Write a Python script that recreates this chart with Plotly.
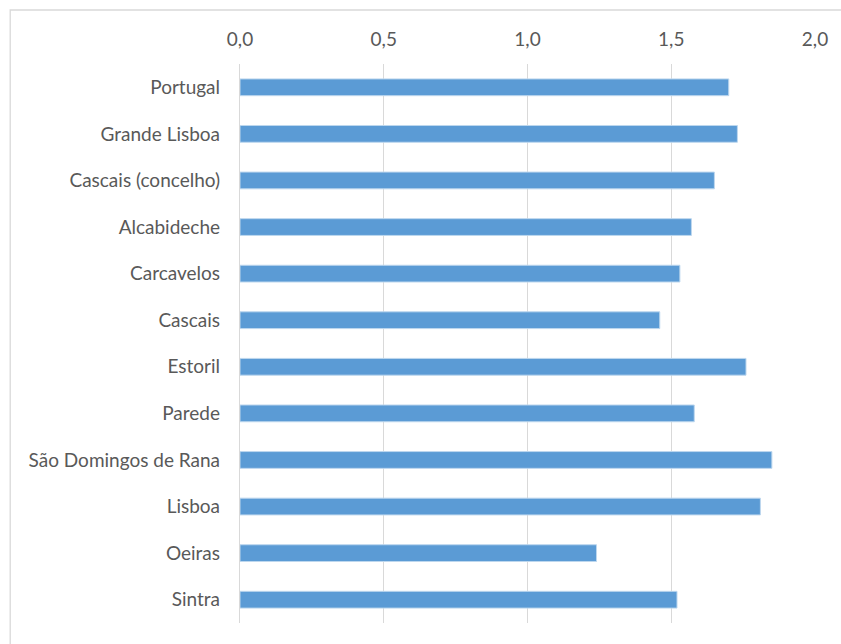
import plotly.graph_objects as go

categories = ["Portugal", "Grande Lisboa", "Cascais (concelho)", "Alcabideche", "Carcavelos",
              "Cascais", "Estoril", "Parede", "São Domingos de Rana", "Lisboa", "Oeiras", "Sintra"]
values = [1.70, 1.73, 1.65, 1.57, 1.53, 1.46, 1.76, 1.58, 1.85, 1.81, 1.24, 1.52]
tick_vals = [0, 0.5, 1.0, 1.5, 2.0]
tick_text = ["0,0", "0,5", "1,0", "1,5", "2,0"]

W, H = 841, 644
L, R, T, B = 240, 25.5, 64, 21
pw, ph = W - L - R, H - T - B

fig = go.Figure(go.Bar(
    x=values, y=categories, orientation="h",
    marker=dict(color="#5B9BD5", line=dict(color="#BDD7EE", width=1)),
    width=0.36,
))

def px(xp):
    return (xp - L) / pw

def py(yp):
    return (H - B - yp) / ph

fig.update_layout(
    width=W, height=H,
    margin=dict(l=L, r=R, t=T, b=B),
    paper_bgcolor="white", plot_bgcolor="white",
    font=dict(family="Lato, Carlito, sans-serif", size=19, color="#595959"),
    showlegend=False,
    xaxis=dict(range=[0, 2.0], side="top", tickvals=tick_vals, ticktext=tick_text,
               showgrid=True, gridcolor="#D9D9D9", gridwidth=1.3, zeroline=False,
               showline=False, ticks="", ticklabelstandoff=13),
    yaxis=dict(autorange="reversed", showgrid=False, showline=True, linecolor="#D9D9D9",
               linewidth=1.3, ticks="", ticklabelstandoff=15, zeroline=False),
    shapes=[dict(type="rect", xref="paper", yref="paper",
                 x0=px(10), x1=px(860), y0=py(10), y1=py(660),
                 line=dict(color="#D9D9D9", width=1.3), layer="below")],
)

fig.write_html("out.html", config={"displayModeBar": False},
               post_script="document.body.style.margin='0px';document.body.style.overflow='hidden';")
